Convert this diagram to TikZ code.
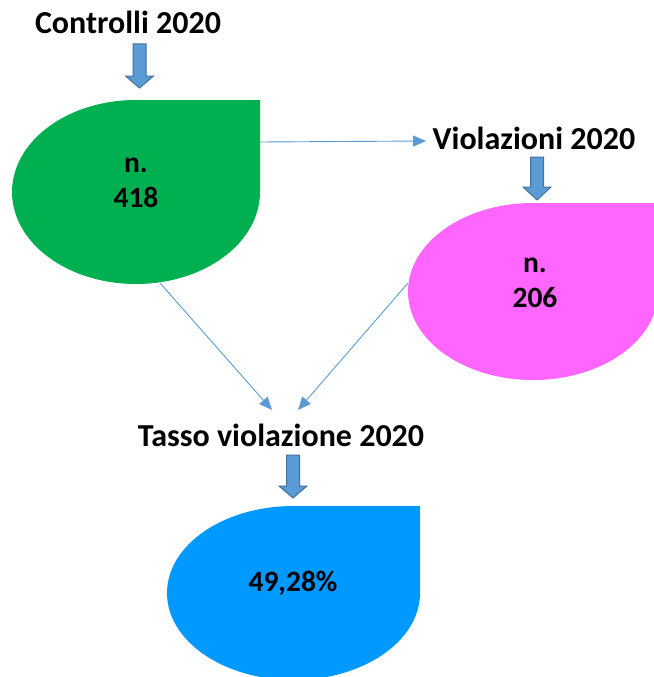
\documentclass[tikz,border=0pt]{standalone}
\usepackage{fontspec}
\setmainfont{Carlito}
\usetikzlibrary{arrows.meta}
\definecolor{cgreen}{HTML}{00B050}
\definecolor{cpink}{HTML}{FF66FF}
\definecolor{cblue}{HTML}{0099FF}
\definecolor{arrfill}{HTML}{5B9BD5}
\definecolor{arrline}{HTML}{41719C}
\tikzset{
  lbl/.style={font=\bfseries\fontsize{32}{35}\selectfont, inner sep=0pt, anchor=center},
  val/.style={font=\bfseries\fontsize{29.5}{35}\selectfont, inner sep=0pt, align=center, anchor=center},
  conn/.style={draw=arrfill, line width=0.9pt, -{Triangle[length=13pt,width=11pt]}},
  blockarrow/.style={fill=arrfill, draw=arrline, line width=1pt, line join=miter},
}
\newcommand{\teardrop}[5]{% cx, cy, rx, ry, colour
  \fill[#5] (#1,#2-#4) -- (#1+#3,#2-#4) -- (#1+#3,#2)
    arc[start angle=0, end angle=270, x radius=#3, y radius=#4] -- cycle;}
\newcommand{\downarrowblk}[4]{% cx, top, headbase, tip
  \draw[blockarrow] (#1-6.5,#2) -- (#1+6.5,#2) -- (#1+6.5,#3) -- (#1+14,#3)
    -- (#1,#4) -- (#1-14,#3) -- (#1-6.5,#3) -- cycle;}
\begin{document}
\begin{tikzpicture}[x=1pt,y=-1pt]
\useasboundingbox (0,0) rectangle (653,677);
% shapes
\teardrop{136}{192}{124}{92}{cgreen}
\teardrop{533}{291.5}{125}{88.5}{cpink}
\teardrop{293.5}{593}{126.5}{87}{cblue}
% block arrows
\downarrowblk{139.5}{44}{76}{88}
\downarrowblk{537}{157}{187}{200}
\downarrowblk{293}{455}{486}{498}
% labels
\node[lbl] (controlli) at (128,22) {Controlli 2020};
\node[lbl] (violazioni) at (534,138) {Violazioni 2020};
\node[lbl] (tasso) at (281,435) {Tasso violazione 2020};
\node[val] (green) at (136,183) {n.\\418};
\node[val] (pink) at (535,283) {n.\\206};
\node[val] (blue) at (293,583) {49,28\%};
% connector end points
\coordinate (gR) at (260,142);
\coordinate (gB) at (160,283);
\coordinate (pL) at (408,283);
\coordinate (vIn) at (426,141);
\coordinate (tL) at (272,410);
\coordinate (tR) at (298,410);
\draw[conn] (gR) -- (vIn);
\draw[conn] (gB) -- (tL);
\draw[conn] (pL) -- (tR);
\end{tikzpicture}
\end{document}
